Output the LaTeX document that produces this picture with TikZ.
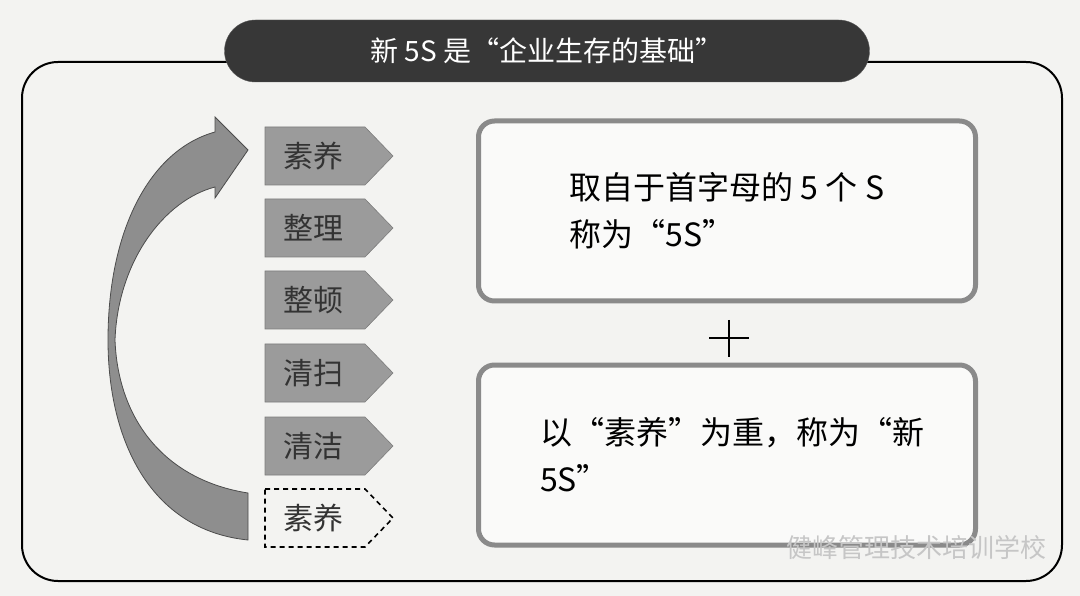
\documentclass[tikz,border=0pt]{standalone}
\usepackage{fontspec}
\setmainfont{Noto Sans CJK SC}
\usetikzlibrary{positioning}
\definecolor{paper}{HTML}{F3F3F1}
\definecolor{pilldark}{HTML}{373737}
\definecolor{tagfill}{HTML}{9B9B9B}
\definecolor{arrowfill}{HTML}{8E8E8E}
\definecolor{boxline}{HTML}{8A8A8A}
\tikzset{
    titlepill/.style={fill=pilldark, draw=gray!70!black, rounded corners=31pt,
        minimum width=645pt, minimum height=62pt, text=white,
        font=\fontsize{28}{32}\selectfont},
    steptag/.style={fill=tagfill, draw=tagfill!80!black, line width=0.6pt},
    steptagopen/.style={fill=paper, draw=black, dash pattern=on 5pt off 4pt, line width=1.6pt},
    tagtext/.style={text=black!80, font=\fontsize{30}{34}\selectfont},
    infobox/.style={draw=boxline, line width=5pt, fill=white!60!paper, rounded corners=16pt,
        minimum width=497pt, minimum height=180pt, align=left,
        font=\fontsize{32}{47}\selectfont},
    cyclearrow/.style={fill=arrowfill, draw=black!70, line width=0.8pt},
}

\begin{document}
\begin{tikzpicture}[x=1pt, y=-1pt]
    \useasboundingbox[fill=paper] (0,0) rectangle (1080,596);
    % outer frame
    \draw[line width=2pt, rounded corners=36pt] (22,62) rectangle (1062,581);
    \node[titlepill] (title) at (547,51) {新 5S 是“企业生存的基础”};

    % curved arrow back to the top
    \draw[cyclearrow] (248,540) .. controls (150,530) and (108,440) .. (108,340)
        .. controls (108,230) and (150,150) .. (215,132) -- (215,117) -- (248,150)
        -- (215,198) -- (215,187)
        .. controls (165,200) and (118,260) .. (115,340)
        .. controls (118,420) and (165,480) .. (248,493) -- cycle;

    % the six steps
    \foreach \y/\word [count=\i] in {127/素养, 199/整理, 271/整顿, 344/清扫, 417/清洁} {
        \draw[steptag] (265,\y) -- ++(100,0) -- ++(28,29) -- ++(-28,29) -- ++(-100,0) -- cycle;
        \node[tagtext] (step\i) at (313,\y+29) {\word};
    }
    \draw[steptagopen] (265,489) -- ++(100,0) -- ++(28,29) -- ++(-28,29) -- ++(-100,0) -- cycle;
    \node[tagtext] (step6) at (313,518) {素养};

    % right hand boxes
    \node[infobox] (old5s) at (727,211) {取自于首字母的 5 个 S\\称为“5S”};
    \node[infobox] (new5s) at (727,455) {\hspace*{10pt}以“素养”为重，称为“新\\\hspace*{10pt}5S”};
    \draw[line width=2.5pt] (709,338) -- (749,338);
    \draw[line width=2.5pt] (729,320) -- (729,357);

    % watermark
    \node[text=gray!45, font=\fontsize{26}{30}\selectfont, anchor=west] (mark) at (783,548) {健峰管理技术培训学校};
\end{tikzpicture}
\end{document}
